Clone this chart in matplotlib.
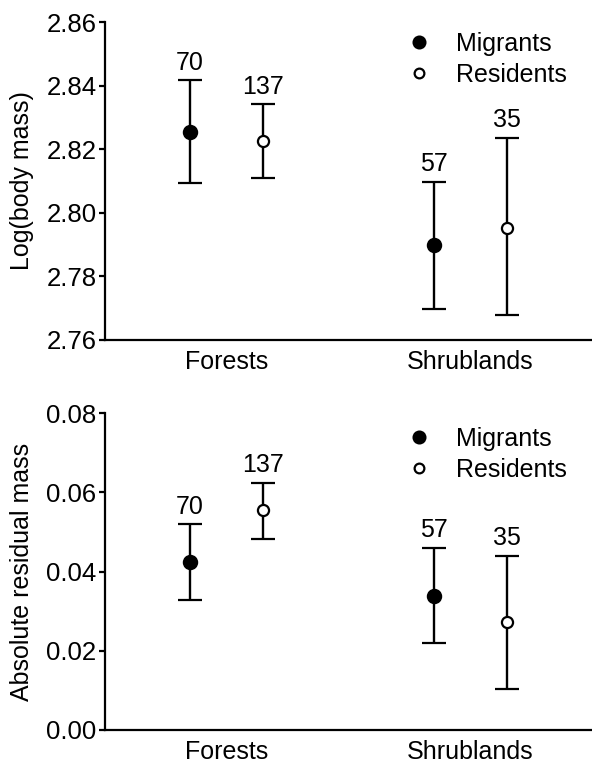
import matplotlib
matplotlib.use("Agg")
import matplotlib.pyplot as plt
from matplotlib.lines import Line2D

plt.rcParams['font.family'] = ['Liberation Sans', 'DejaVu Sans']

habitats = ["Forests", "Shrublands"]
groups = ["Migrants", "Residents"]
sample_n = {"Migrants": [70, 57], "Residents": [137, 35]}

# top panel: log(body mass)
mass_mean = {"Migrants": [2.8253, 2.7899], "Residents": [2.8227, 2.7953]}
mass_hi = {"Migrants": [2.8417, 2.8098], "Residents": [2.8341, 2.8236]}
mass_lo = {"Migrants": [2.8095, 2.7698], "Residents": [2.8108, 2.7678]}

# bottom panel: absolute residual mass
resid_mean = {"Migrants": [0.0425, 0.0339], "Residents": [0.0556, 0.0272]}
resid_hi = {"Migrants": [0.0520, 0.0461], "Residents": [0.0625, 0.0440]}
resid_lo = {"Migrants": [0.0328, 0.0219], "Residents": [0.0482, 0.0103]}

fig = plt.figure(figsize=(5.92, 7.65), dpi=100)
ax1 = fig.add_axes([0.177, 0.5556, 0.823, 0.4156])
ax2 = fig.add_axes([0.177, 0.0458, 0.823, 0.4139])

offsets = {"Migrants": -0.15, "Residents": 0.15}
faces = {"Migrants": "black", "Residents": "white"}
msize = {"Migrants": 9.5, "Residents": 8}
FS = 18


def panel(ax, mean, hi, lo, ylim, ticks, ylabel, label_gap, leg_y):
    for g in groups:
        for i, h in enumerate(habitats):
            x = i + 1 + offsets[g]
            m = mean[g][i]
            ax.errorbar([x], [m], yerr=[[m - lo[g][i]], [hi[g][i] - m]],
                        fmt="o", color="black", mfc=faces[g], mec="black",
                        mew=1.6, ms=msize[g], elinewidth=1.7, capsize=8.5,
                        capthick=1.7)
            ax.text(x, hi[g][i] + label_gap, str(sample_n[g][i]), ha="center",
                    va="bottom", fontsize=FS)
    ax.set_xlim(0.5, 2.5)
    ax.set_ylim(*ylim)
    ax.set_yticks(ticks)
    ax.set_yticklabels(["{:.2f}".format(t) for t in ticks], fontsize=18.5)
    ax.set_xticks([1, 2])
    ax.set_xticklabels(habitats, fontsize=FS)
    ax.tick_params(axis="x", length=0, pad=7)
    ax.tick_params(axis="y", length=4, width=1.6, pad=2)
    ax.set_ylabel(ylabel, fontsize=FS, labelpad=9)
    for s in ["top", "right"]:
        ax.spines[s].set_visible(False)
    for s in ["left", "bottom"]:
        ax.spines[s].set_linewidth(1.6)
    handles = [Line2D([], [], ls="", marker="o", mfc=faces[g], mec="black",
                      mew=1.6, ms=msize[g] - 1, color="black") for g in groups]
    ax.legend(handles, groups, loc="upper right", bbox_to_anchor=(0.985, leg_y),
              frameon=False, fontsize=FS, handletextpad=1.0, labelspacing=0.28,
              handlelength=1.0, borderpad=0.2)


panel(ax1, mass_mean, mass_hi, mass_lo, (2.76, 2.86),
      [2.76, 2.78, 2.80, 2.82, 2.84, 2.86], "Log(body mass)", 0.0017, 1.023)
panel(ax2, resid_mean, resid_hi, resid_lo, (0.0, 0.08),
      [0.00, 0.02, 0.04, 0.06, 0.08], "Absolute residual mass", 0.0014, 1.013)

fig.savefig("out.png", dpi=100)
